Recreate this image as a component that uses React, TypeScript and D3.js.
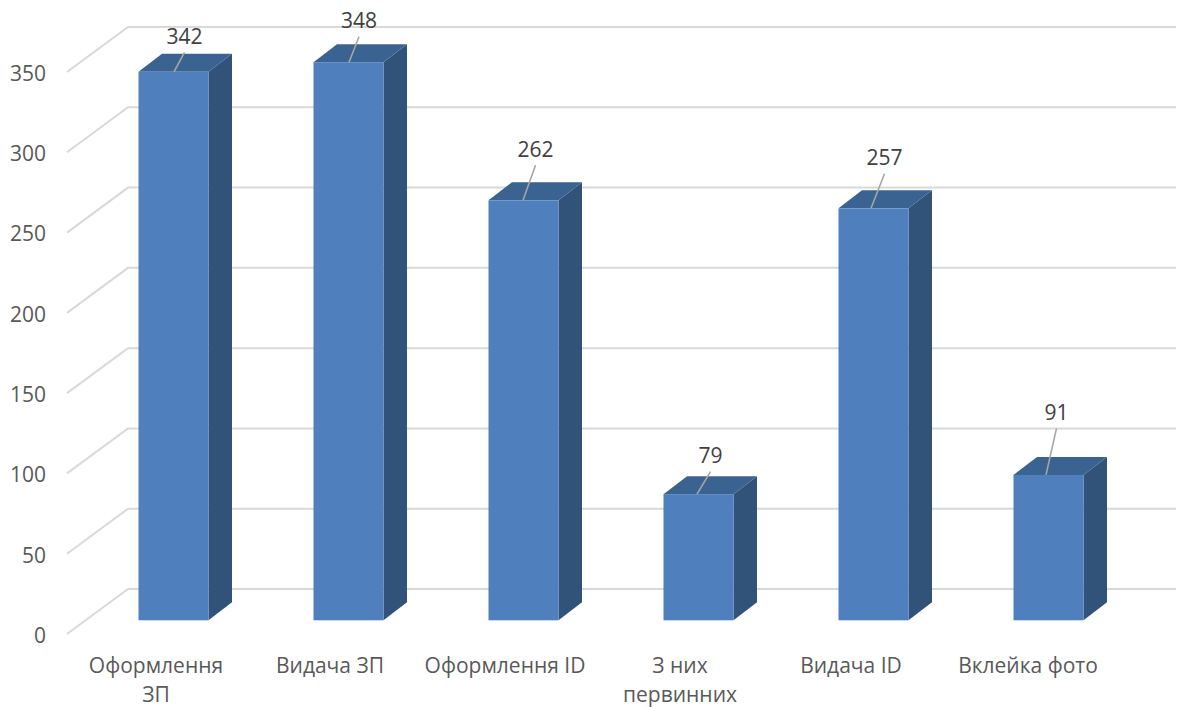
import * as d3 from "d3";

const categories = ["Оформлення ЗП", "Видача ЗП", "Оформлення ID", "З них первинних", "Видача ID", "Вклейка фото"];
const categoryLines = [["Оформлення", "ЗП"], ["Видача ЗП"], ["Оформлення ID"], ["З них", "первинних"], ["Видача ID"], ["Вклейка фото"]];
const values = [342, 348, 262, 79, 257, 91];
const yTicks = [0, 50, 100, 150, 200, 250, 300, 350];

// data labels were dragged by hand in the original, so each leader line has its own offsets
const leaderBaseDx = [0.5, 0.5, -0.5, -1.5, -2.5, -2.5];
const labelDx = [11, 10.5, 12, 12, 11, 8];
const leaderRise = [19.5, 25.5, 35, 22.5, 34.5, 46.5];
const categoryDx = [-17.5, -18.5, -18.5, -18.5, -22.5, -20.5];

const width = 1182;
const height = 707;
const font = "'Open Sans', sans-serif";

const App = () => {
    const yFront = d3.scaleLinear().domain([0, 350]).range([634, 72]);
    const yBack = d3.scaleLinear().domain([0, 350]).range([589, 27]);
    const yBar = d3.scaleLinear().domain([0, 350]).range([621, 59]);
    const x = d3.scaleBand<string>()
        .domain(categories)
        .range([86, 1136])
        .paddingInner(0.6)
        .paddingOuter(0.3);

    const depthX = 23.5;
    const depthY = 18;
    const poly = d3.line();

    return (
        <svg width={width} height={height} style={{position: "absolute", left: 0, top: 0, background: "#fff"}}>
            {yTicks.map(t => (
                <g key={t}>
                    <path
                        d={poly([[67, yFront(t)], [128, yBack(t)], [1176, yBack(t)]])!}
                        fill="none"
                        stroke="#D9D9D9"
                        strokeWidth={2}
                    />
                    <text x={46} y={yFront(t) + 8.8} textAnchor="end" fontFamily={font} fontSize={21} fill="#595959">{t}</text>
                </g>
            ))}
            {categories.map((c, i) => {
                const x0 = x(c)!;
                const x1 = x0 + x.bandwidth();
                const top = yBar(values[i]);
                const bottom = yBar(0) - 0.7;
                const cx = x0 + x.bandwidth() / 2;
                const leaderTop = top - leaderRise[i];
                return (
                    <g key={c}>
                        <path
                            d={poly([[x1, top], [x1 + depthX, top - depthY], [x1 + depthX, bottom - depthY], [x1, bottom]])! + "Z"}
                            fill="#325379"
                        />
                        <path
                            d={poly([[x0, top], [x0 + depthX, top - depthY], [x1 + depthX, top - depthY], [x1, top]])! + "Z"}
                            fill="#3A6391"
                        />
                        <rect x={x0} y={top} width={x.bandwidth()} height={bottom - top} fill="#4F80BD"/>
                        <line
                            x1={cx + leaderBaseDx[i]}
                            y1={top}
                            x2={cx + labelDx[i]}
                            y2={leaderTop}
                            stroke="#A6A6A6"
                            strokeWidth={1.6}
                        />
                        <text
                            x={cx + labelDx[i]}
                            y={leaderTop - 8.8}
                            textAnchor="middle"
                            fontFamily={font}
                            fontSize={21}
                            fill="#404040"
                        >{values[i]}</text>
                        <text textAnchor="middle" fontFamily={font} fontSize={21} fill="#595959">
                            {categoryLines[i].map((l, k) => (
                                <tspan key={k} x={cx + categoryDx[i]} y={673 + k * 28.5}>{l}</tspan>
                            ))}
                        </text>
                    </g>
                );
            })}
        </svg>
    );
};

export default App;
